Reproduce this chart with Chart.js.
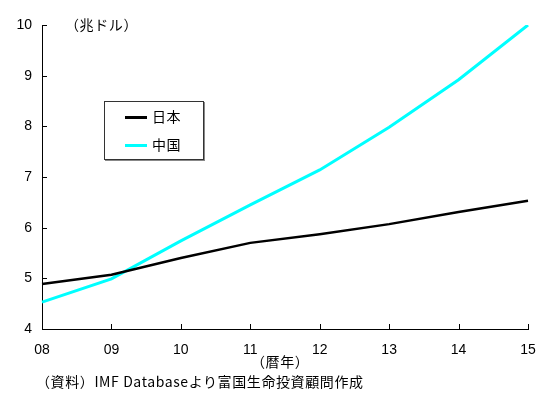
<!DOCTYPE html>
<html>
<head>
<meta charset="utf-8">
<script src="https://cdn.jsdelivr.net/npm/chart.js@4/dist/chart.umd.min.js"></script>
<style>
  html, body { margin: 0; padding: 0; background: #fff; }
  #wrap { position: relative; width: 543px; height: 397px; }
  #c { position: absolute; left: 0; top: 0; }
  .note { position: absolute; font-family: "Noto Sans CJK JP", sans-serif; font-size: 14px; color: #000; white-space: nowrap; line-height: 1; letter-spacing: 0.6px; }
  #legend { position: absolute; left: 104px; top: 101px; width: 98px; height: 57px; border: 1px solid #333; box-shadow: 1px 1px 0 #888; background: #fff; }
  .item { position: absolute; left: 20px; height: 16px; font-family: "Noto Sans CJK JP", sans-serif; font-size: 14px; line-height: 16px; letter-spacing: 0.5px; }
  .swatch { display: inline-block; width: 22px; height: 3px; vertical-align: middle; margin-right: 5px; position: relative; top: -1px; }
</style>
</head>
<body>
<div id="wrap">
  <canvas id="c" width="543" height="397"></canvas>
  <div class="note" style="left:65px; top:17px;">（兆ドル）</div>
  <div class="note" style="left:251px; top:354px;">（暦年）</div>
  <div class="note" style="left:36px; top:374px;">（資料）IMF Databaseより富国生命投資顧問作成</div>
  <div id="legend"></div>
</div>
<script>
// Calendar years (2008–2015), nominal GDP in trillion US dollars
const years = ['08', '09', '10', '11', '12', '13', '14', '15'];
const japanGdp = [4.89, 5.07, 5.40, 5.70, 5.87, 6.07, 6.31, 6.53];
const chinaGdp = [4.53, 4.99, 5.74, 6.45, 7.14, 7.98, 8.92, 10.0];
const seriesNames = ['日本', '中国'];
const seriesColors = ['#000000', '#00ffff'];
const yTicks = [4, 5, 6, 7, 8, 9, 10];

// Short tick marks pointing into the plot area
const innerTicks = {
  id: 'innerTicks',
  afterDraw(chart) {
    const { ctx, scales: { x, y } } = chart;
    ctx.save();
    ctx.strokeStyle = '#000';
    ctx.lineWidth = 1;
    ctx.beginPath();
    yTicks.forEach(v => {
      const py = Math.round(y.getPixelForValue(v)) + 0.5;
      ctx.moveTo(x.left, py);
      ctx.lineTo(x.left + 5, py);
    });
    years.forEach((_, i) => {
      const px = Math.round(x.getPixelForValue(i)) + 0.5;
      ctx.moveTo(px, y.bottom);
      ctx.lineTo(px, y.bottom - 5);
    });
    ctx.stroke();
    ctx.restore();
  }
};

const chart = new Chart(document.getElementById('c'), {
  type: 'line',
  data: {
    labels: years,
    datasets: [
      { label: seriesNames[0], data: japanGdp, borderColor: seriesColors[0], borderWidth: 2.5, pointRadius: 0, tension: 0, fill: false },
      { label: seriesNames[1], data: chinaGdp, borderColor: seriesColors[1], borderWidth: 3, pointRadius: 0, tension: 0, fill: false }
    ]
  },
  options: {
    responsive: false,
    animation: false,
    devicePixelRatio: 1,
    layout: { autoPadding: false, padding: { top: 25, right: 15, left: 0, bottom: 0 } },
    plugins: { legend: { display: false }, tooltip: { enabled: false } },
    scales: {
      x: {
        offset: false,
        grid: { display: false, drawTicks: false },
        border: { display: true, color: '#000', width: 1 },
        ticks: { color: '#000', padding: 13, maxRotation: 0, autoSkip: false,
                 font: { family: 'Liberation Sans, Arial, sans-serif', size: 14 } },
        afterFit(s) { s.height = 68; s.paddingLeft = 0; s.paddingRight = 0; }
      },
      y: {
        min: 4, max: 10,
        grid: { display: false, drawTicks: false },
        border: { display: true, color: '#000', width: 1 },
        ticks: { color: '#000', padding: 10, stepSize: 1,
                 font: { family: 'Liberation Sans, Arial, sans-serif', size: 14 } },
        afterFit(s) { s.width = 42; s.paddingTop = 0; s.paddingBottom = 0; }
      }
    }
  },
  plugins: [innerTicks]
});

// Legend box built from the dataset names and colours
const legend = document.getElementById('legend');
seriesNames.forEach((name, i) => {
  const item = document.createElement('div');
  item.className = 'item';
  item.style.top = (6 + i * 28) + 'px';
  item.innerHTML = '<span class="swatch" style="background:' + seriesColors[i] + '"></span>' + name;
  legend.appendChild(item);
});
</script>
</body>
</html>
